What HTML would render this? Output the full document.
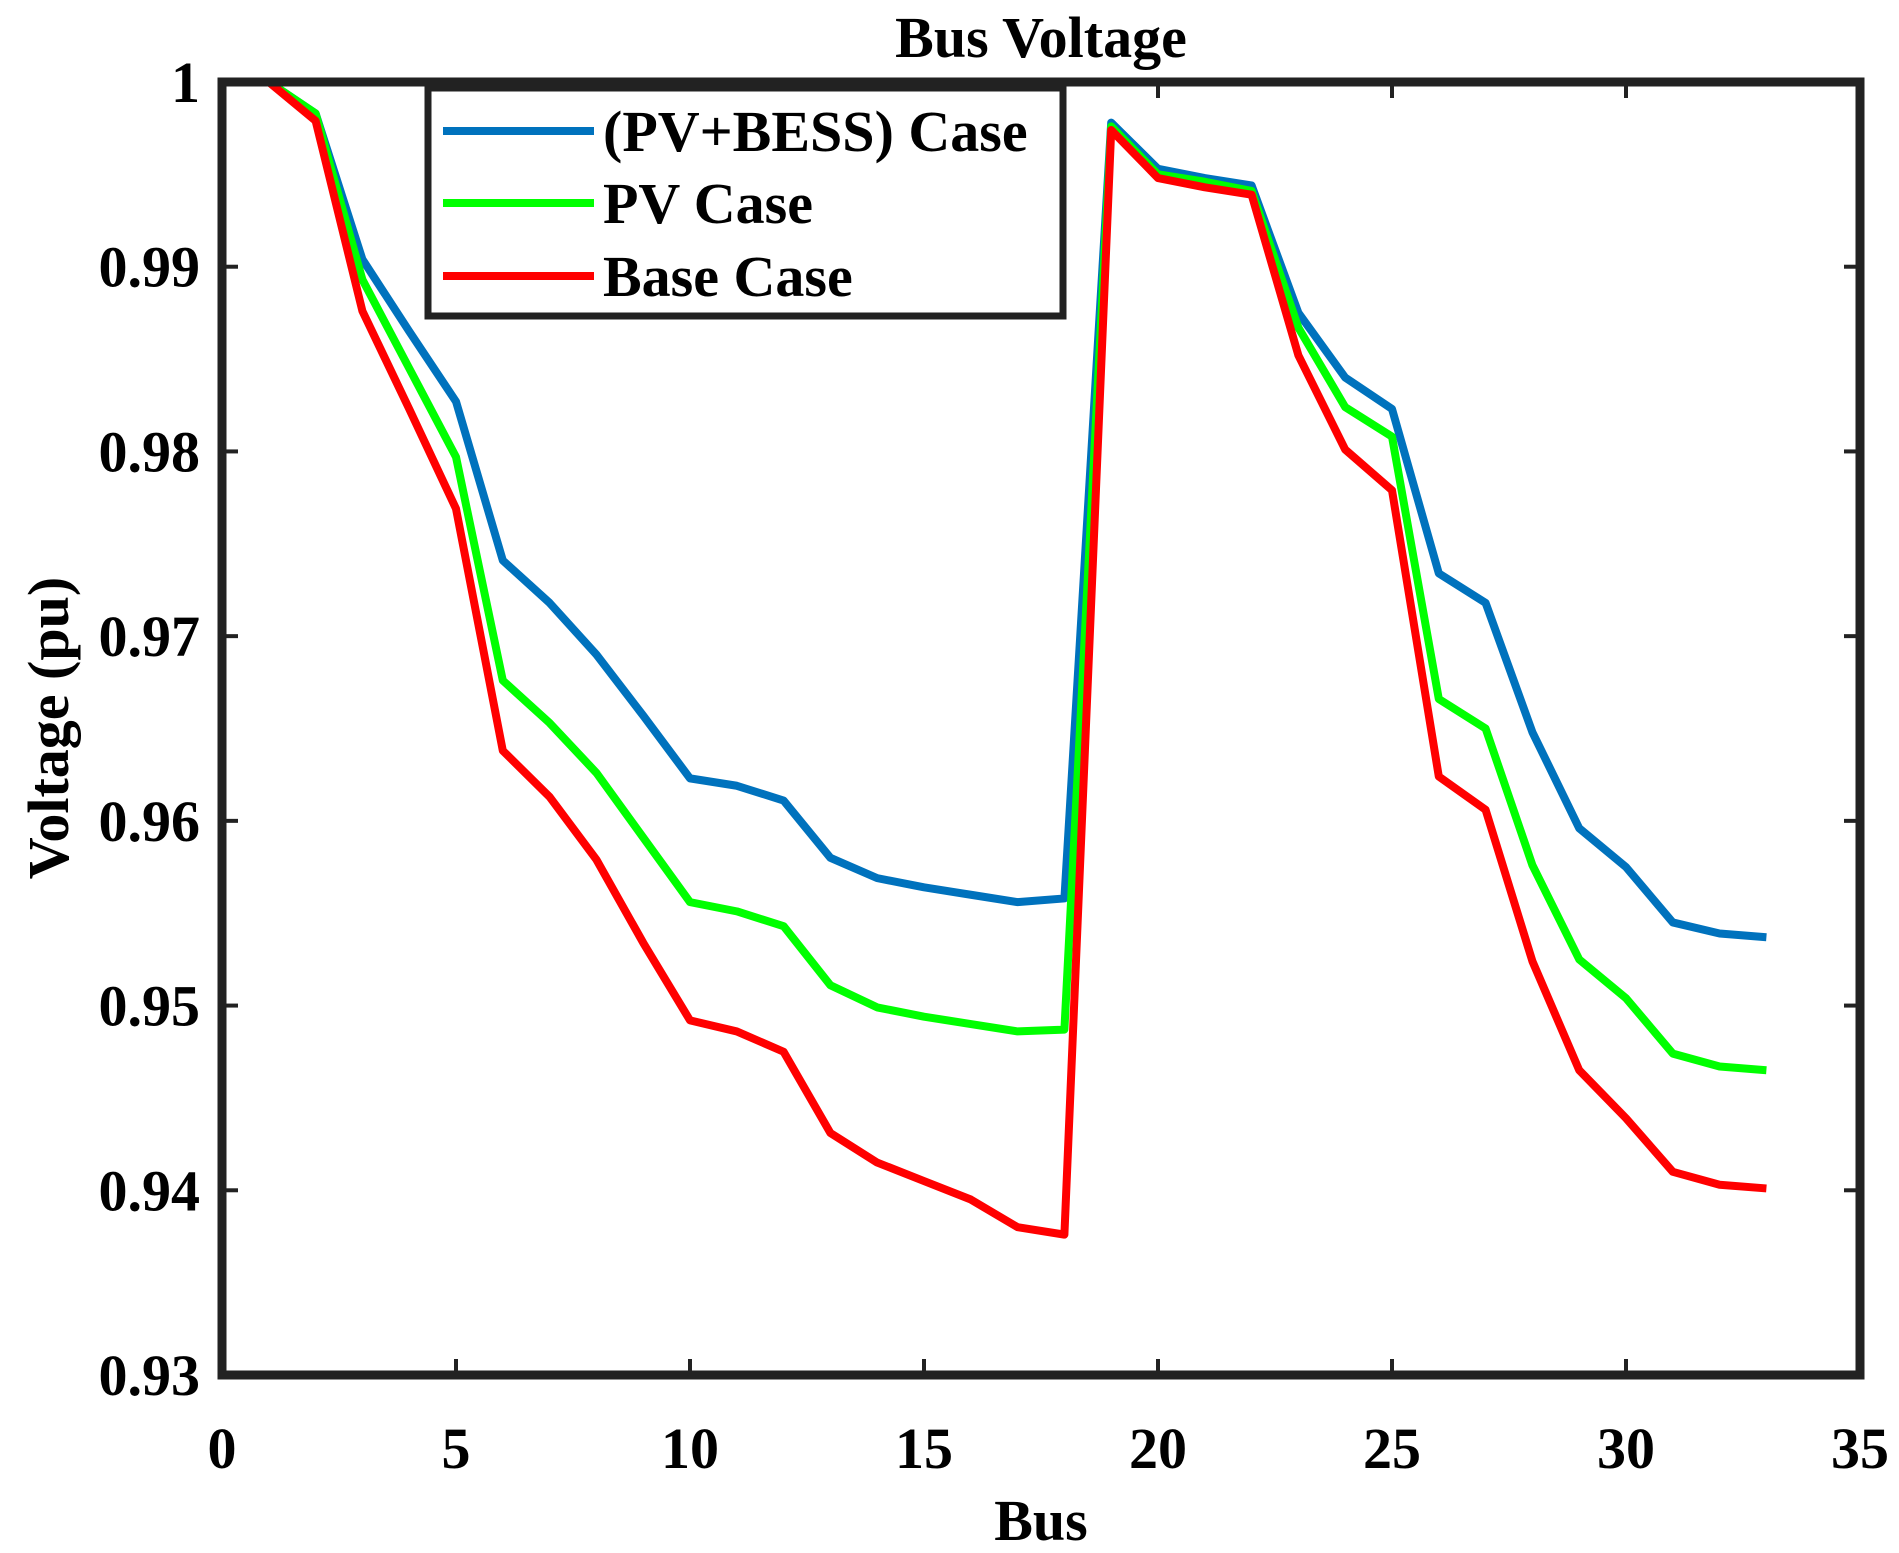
<!DOCTYPE html>
<html><head><meta charset="utf-8"><style>
html,body{margin:0;padding:0;background:#fff;}
svg{display:block;font-family:"Liberation Serif",serif;font-weight:bold;}
</style></head><body>
<svg id="chart" width="1899" height="1553" viewBox="0 0 1899 1553"></svg>
<script>
const buses = [1,2,3,4,5,6,7,8,9,10,11,12,13,14,15,16,17,18,19,20,21,22,23,24,25,26,27,28,29,30,31,32,33];
const pvBess = [1,0.9983,0.9904,0.9865,0.9827,0.9741,0.9718,0.9690,0.9657,0.9623,0.9619,0.9611,0.9580,0.9569,0.9564,0.9560,0.9556,0.9558,0.9978,0.9953,0.9948,0.9944,0.9875,0.9840,0.9823,0.9734,0.9718,0.9648,0.9596,0.9575,0.9545,0.9539,0.9537];
const pvOnly = [1,0.9983,0.9893,0.9845,0.9797,0.9676,0.9653,0.9626,0.9591,0.9556,0.9551,0.9543,0.9511,0.9499,0.9494,0.9490,0.9486,0.9487,0.9976,0.9950,0.9946,0.9941,0.9867,0.9824,0.9808,0.9666,0.9650,0.9576,0.9525,0.9504,0.9474,0.9467,0.9465];
const baseCase = [1,0.9979,0.9876,0.9823,0.9769,0.9638,0.9613,0.9579,0.9534,0.9492,0.9486,0.9475,0.9431,0.9415,0.9405,0.9395,0.9380,0.9376,0.9974,0.9948,0.9943,0.9939,0.9852,0.9801,0.9779,0.9624,0.9606,0.9524,0.9465,0.9439,0.9410,0.9403,0.9401];
const xTicks = [0,5,10,15,20,25,30,35];
const yTicks = [0.93,0.94,0.95,0.96,0.97,0.98,0.99,1];
const yTickLabels = ["0.93","0.94","0.95","0.96","0.97","0.98","0.99","1"];

const NS="http://www.w3.org/2000/svg";
const svg=document.getElementById('chart');
const L=222,R=1860,T=82,B=1375;
const xs=v=>L+(v-0)/(35-0)*(R-L);
const ys=v=>B-(v-0.93)/(1-0.93)*(B-T);
function mk(tag,attrs,parent){const e=document.createElementNS(NS,tag);for(const k in attrs)e.setAttribute(k,attrs[k]);(parent||svg).appendChild(e);return e;}

const title=mk('text',{x:1041,y:57,'text-anchor':'middle','font-size':58});
title.textContent='Bus Voltage';



xTicks.forEach(t=>{
  const x=xs(t);
  const a=mk('line',{x1:x,y1:B,x2:x,y2:B-16,stroke:'#222','stroke-width':4});
  
  
  mk('line',{x1:x,y1:T,x2:x,y2:T+16,stroke:'#222','stroke-width':4});
  const tx=mk('text',{x:x,y:1468,'text-anchor':'middle','font-size':58});
  tx.textContent=String(t);
  
  
});
yTicks.forEach((t,i)=>{
  const y=ys(t);
  const a=mk('line',{x1:L,y1:y,x2:L+16,y2:y,stroke:'#222','stroke-width':4});
  
  
  mk('line',{x1:R,y1:y,x2:R-16,y2:y,stroke:'#222','stroke-width':4});
  const tx=mk('text',{x:200,y:y+20,'text-anchor':'end','font-size':58});
  tx.textContent=yTickLabels[i];
  
  
});

const xl=mk('text',{x:1041,y:1540,'text-anchor':'middle','font-size':58});
xl.textContent='Bus';


const yl=mk('text',{x:0,y:0,'text-anchor':'middle','font-size':58,transform:'translate(68,728) rotate(-90)'});
yl.textContent='Voltage (pu)';



const series=[[pvBess,'#0072BD','pv-bess-line'],[pvOnly,'#00FF00','pv-line'],[baseCase,'#FF0000','base-case-line']];
series.forEach(([d,c,n])=>{
  const p=mk('polyline',{points:d.map((v,i)=>xs(buses[i])+','+ys(v)).join(' '),fill:'none',stroke:c,'stroke-width':8,'stroke-linejoin':'round'});
  
  
});

const frame=mk('rect',{x:L,y:T,width:R-L,height:B-T,fill:'none',stroke:'#222','stroke-width':9});



const lg=mk('g',{});


mk('rect',{x:428,y:88,width:635,height:228,fill:'#fff',stroke:'#222','stroke-width':7},lg);
const entries=[['(PV+BESS) Case','#0072BD',131],['PV Case','#00FF00',203],['Base Case','#FF0000',276]];
entries.forEach(([t,c,y])=>{
  const g=mk('g',{},lg);
  
  
  mk('line',{x1:443,y1:y,x2:594,y2:y,stroke:c,'stroke-width':8},g);
  const tx=mk('text',{x:603,y:y+20,'font-size':58},g);
  tx.textContent=t;
});
</script>
</body></html>
